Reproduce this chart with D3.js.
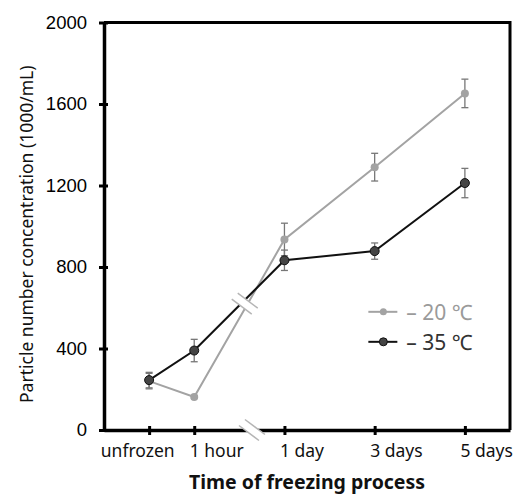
<!DOCTYPE html>
<html>
<head>
<meta charset="utf-8">
<script src="https://cdn.jsdelivr.net/npm/d3@7"></script>
<style>
	body { margin: 0; background: #fff; }
</style>
</head>
<body>
<div id="chart"></div>
<script>
// ********** LINE CHART WITH ERROR BARS **********

// Category labels and their position along the (broken) x axis
const categories = ['unfrozen', '1 hour', '1 day', '3 days', '5 days'];
const categoryPos = [0, 0.5, 1.5, 2.5, 3.5];

// Series values (1000/mL) and error bar half-widths
const minus20 = [240, 162, 935, 1290, 1652];
const minus20Err = [38, 0, 80, 68, 70];
const minus35 = [245, 390, 833, 878, 1212];
const minus35Err = [38, 55, 50, 40, 72];

// Series labels
const seriesNames = ['– 20 ℃', '– 35 ℃'];

// Y tick labels
const yTicks = [0, 400, 800, 1200, 1600, 2000];

// Chart size and margins
const width = 518, height = 495;
const margin = { top: 22.5, left: 104, right: 8, bottom: 65 };

const sansFont = '"Noto Sans", "Open Sans", sans-serif';
const numFont = '"Liberation Sans", Arial, sans-serif';

// Colour for each series
const colors = {
	line: ['#a3a3a3', '#111'],
	fill: ['#a3a3a3', '#444'],
	text: ['#9a9a9a', '#333']
};

const svg = d3.select('#chart')
	.append('svg')
	.attr('width', width)
	.attr('height', height);

// Scales
const xScale = d3.scaleLinear()
	.domain([-0.5, 4])
	.range([margin.left, width - margin.right]);

const yScale = d3.scaleLinear()
	.domain([0, 2000])
	.range([height - margin.bottom, margin.top]);

// Build data table for each series
const series = [minus20, minus35].map((vals, s) => vals.map((v, i) => ({
	x: categoryPos[i],
	y: v,
	err: [minus20Err, minus35Err][s][i]
})));

// Frame (top and right borders)
svg.append('path')
	.attr('d', `M${xScale(-0.5)},${yScale(2000)}H${xScale(4)}V${yScale(0)}`)
	.attr('fill', 'none')
	.attr('stroke', '#000')
	.attr('stroke-width', 3);

// Y axis
const yAxis = d3.axisLeft(yScale)
	.tickValues(yTicks)
	.tickFormat(d3.format('d'))
	.tickSizeInner(5)
	.tickSizeOuter(0)
	.tickPadding(12);

const yG = svg.append('g')
	.attr('transform', `translate(${margin.left}, 0)`)
	.call(yAxis);

yG.select('.domain').attr('stroke-width', 3.5);
yG.selectAll('.tick line').attr('stroke-width', 3).attr('x2', 4).attr('x1', -5);
yG.selectAll('.tick text')
	.style('font-size', '18.5px')
	.style('font-family', numFont)
	.attr('fill', '#000');

// X axis (labels sit slightly right of their ticks, as in the original)
const xAxis = d3.axisBottom(xScale)
	.tickValues(categoryPos)
	.tickFormat((d, i) => categories[i])
	.tickSizeInner(5)
	.tickSizeOuter(0)
	.tickPadding(10);

const xG = svg.append('g')
	.attr('transform', `translate(0, ${height - margin.bottom})`)
	.call(xAxis);

xG.select('.domain').attr('stroke-width', 3.5);
xG.selectAll('.tick line').attr('stroke-width', 3).attr('y1', -4).attr('y2', 5);
xG.selectAll('.tick text')
	.attr('text-anchor', (d, i) => i === 0 ? 'end' : 'start')
	.attr('dx', (d, i) => i === 0 ? 25 : -5)
	.style('font-size', '17.5px')
	.style('font-family', sansFont)
	.attr('fill', '#111');

// Axis labels
svg.append('text')
	.attr('transform', 'rotate(-90)')
	.attr('x', -(yScale(0) + yScale(2000)) / 2 - 8)
	.attr('y', 33)
	.attr('text-anchor', 'middle')
	.style('font-size', '17.5px')
	.style('font-family', sansFont)
	.attr('fill', '#111')
	.text('Particle number concentration (1000/mL)');

svg.append('text')
	.attr('x', (xScale(-0.5) + xScale(4)) / 2)
	.attr('y', 489)
	.attr('text-anchor', 'middle')
	.style('font-size', '19.5px')
	.style('font-weight', 'bold')
	.style('font-family', sansFont)
	.attr('fill', '#111')
	.text('Time of freezing process');

// Lines, error bars and markers
const line = d3.line()
	.x(d => xScale(d.x))
	.y(d => yScale(d.y));

series.forEach((data, s) => {
	const g = svg.append('g').attr('class', `series s${s}`);

	g.append('path')
		.datum(data)
		.attr('d', line)
		.attr('fill', 'none')
		.attr('stroke', colors.line[s])
		.attr('stroke-width', 2);

	const eb = g.selectAll('g.err')
		.data(data.filter(d => d.err > 0))
		.enter()
		.append('g')
		.attr('stroke', '#777')
		.attr('stroke-width', 1.3);

	eb.append('line')
		.attr('x1', d => xScale(d.x)).attr('x2', d => xScale(d.x))
		.attr('y1', d => yScale(d.y - d.err)).attr('y2', d => yScale(d.y + d.err));
	eb.append('line')
		.attr('x1', d => xScale(d.x) - 3.5).attr('x2', d => xScale(d.x) + 3.5)
		.attr('y1', d => yScale(d.y + d.err)).attr('y2', d => yScale(d.y + d.err));
	eb.append('line')
		.attr('x1', d => xScale(d.x) - 3.5).attr('x2', d => xScale(d.x) + 3.5)
		.attr('y1', d => yScale(d.y - d.err)).attr('y2', d => yScale(d.y - d.err));
});

// Markers drawn on top of all lines
series.forEach((data, s) => {
	svg.append('g')
		.selectAll('circle')
		.data(data)
		.enter()
		.append('circle')
		.attr('cx', d => xScale(d.x))
		.attr('cy', d => yScale(d.y))
		.attr('r', s === 0 ? 4 : 4.5)
		.attr('fill', colors.fill[s])
		.attr('stroke', s === 0 ? 'none' : '#111')
		.attr('stroke-width', 1);
});

// Axis break marks (double slash)
const drawBreak = (cx, cy) => {
	const dx = 10, dy = 7.5, off = 3;
	const g = svg.append('g');
	g.append('polygon')
		.attr('points', [
			[cx - dx - off, cy - dy + off],
			[cx + dx - off, cy + dy + off],
			[cx + dx + off, cy + dy - off],
			[cx - dx + off, cy - dy - off]
		].join(' '))
		.attr('fill', '#fff');
	[-off, off].forEach(o => {
		g.append('line')
			.attr('x1', cx - dx + o).attr('y1', cy - dy - o)
			.attr('x2', cx + dx + o).attr('y2', cy + dy - o)
			.attr('stroke', '#b5b5b5')
			.attr('stroke-width', 1.5);
	});
};

drawBreak(xScale(1.06), yScale(620));
drawBreak(xScale(1.14), yScale(0));

// Legend
const legend = svg.append('g')
	.attr('transform', `translate(${xScale(2.43)}, ${yScale(580)})`);

seriesNames.forEach((name, s) => {
	const row = legend.append('g').attr('transform', `translate(0, ${s * 30})`);
	row.append('line')
		.attr('x1', 0).attr('x2', 29)
		.attr('stroke', colors.line[s])
		.attr('stroke-width', 2);
	row.append('circle')
		.attr('cx', 15)
		.attr('r', s === 0 ? 3.5 : 4)
		.attr('fill', colors.fill[s])
		.attr('stroke', s === 0 ? 'none' : '#111');
	row.append('text')
		.attr('x', 38)
		.attr('y', 8)
		.style('font-size', '21px')
		.style('font-family', sansFont)
		.attr('fill', colors.text[s])
		.text(name);
});
</script>
</body>
</html>
